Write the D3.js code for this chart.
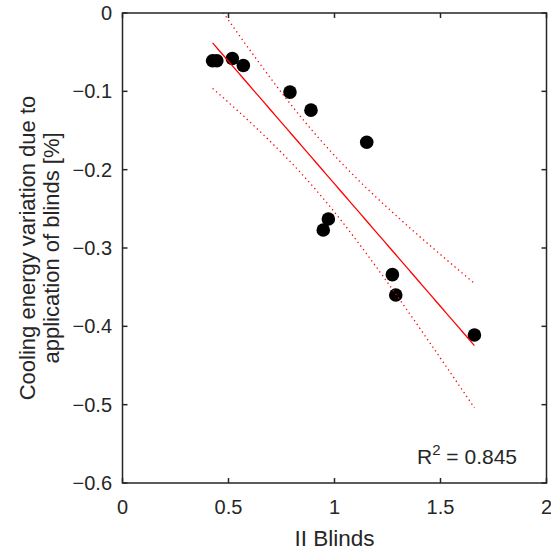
<!DOCTYPE html>
<html>
<head>
<meta charset="utf-8">
<script src="https://cdn.jsdelivr.net/npm/d3@7"></script>
<style>
  html, body { margin: 0; padding: 0; background: #fff; }
  text { font-family: "Liberation Sans", Arial, Helvetica, sans-serif; fill: #262626; }
</style>
</head>
<body>
<svg id="chart" width="551" height="552"></svg>
<script>
// ---- data ----
const xValues = [0.425, 0.445, 0.518, 0.570, 0.790, 0.889, 0.947, 0.971, 1.152, 1.273, 1.289, 1.660];
const yValues = [-0.061, -0.061, -0.058, -0.067, -0.101, -0.124, -0.277, -0.263, -0.165, -0.334, -0.360, -0.411];
const xTicks = [0, 0.5, 1, 1.5, 2];
const yTicks = [0, -0.1, -0.2, -0.3, -0.4, -0.5, -0.6];
const xLabel = "II Blinds";
const yLabelLines = ["Cooling energy variation due to", "application of blinds [%]"];
const r2Text = "0.845";

// ---- layout ----
const svg = d3.select("#chart");
const pL = 122.5, pR = 546.5, pT = 13, pB = 483;
const x = d3.scaleLinear().domain([0, 2]).range([pL, pR]);
const y = d3.scaleLinear().domain([-0.6, 0]).range([pB, pT]);
const axisColor = "#262626";

// ---- linear regression with 95% confidence band of the mean ----
const n = xValues.length;
const mx = d3.mean(xValues), my = d3.mean(yValues);
let sxx = 0, sxy = 0;
for (let i = 0; i < n; i++) { sxx += (xValues[i]-mx)**2; sxy += (xValues[i]-mx)*(yValues[i]-my); }
const slope = sxy / sxx, intercept = my - slope * mx;
let sse = 0;
for (let i = 0; i < n; i++) sse += (yValues[i] - (intercept + slope*xValues[i]))**2;
const sErr = Math.sqrt(sse / (n - 2));
const tCrit = 2.228; // t(0.975, df=10)
const xmin = d3.min(xValues), xmax = d3.max(xValues);
const fitXs = d3.range(0, 101).map(i => xmin + (xmax - xmin) * i / 100);
const hw = xv => tCrit * sErr * Math.sqrt(1/n + (xv-mx)**2 / sxx);
const fitLine = fitXs.map(xv => [xv, intercept + slope*xv]);
const upper = fitXs.map(xv => [xv, intercept + slope*xv + hw(xv)]);
const lower = fitXs.map(xv => [xv, intercept + slope*xv - hw(xv)]);

svg.append("defs").append("clipPath").attr("id", "clip")
  .append("rect").attr("x", pL).attr("y", pT).attr("width", pR-pL).attr("height", pB-pT);

const line = d3.line().x(d => x(d[0])).y(d => y(d[1]));
const g = svg.append("g").attr("clip-path", "url(#clip)");

// points
g.selectAll("circle").data(xValues.map((v,i)=>[v, yValues[i]])).enter().append("circle")
  .attr("cx", d => x(d[0])).attr("cy", d => y(d[1])).attr("r", 6.8).attr("fill", "#000");

g.append("path").attr("d", line(fitLine)).attr("fill", "none").attr("stroke", "#ff0000").attr("stroke-width", 1.3);
[upper, lower].forEach(b => g.append("path").attr("d", line(b)).attr("fill", "none")
  .attr("stroke", "#ff0000").attr("stroke-width", 1.3).attr("stroke-dasharray", "1.3,3.3"));

// axes box with inward ticks
const tickLen = 5;
const axG = svg.append("g");
axG.append("rect").attr("x", pL).attr("y", pT).attr("width", pR-pL).attr("height", pB-pT)
  .attr("fill", "none").attr("stroke", axisColor).attr("stroke-width", 1.5);
xTicks.forEach(t => {
  axG.append("line").attr("x1", x(t)).attr("x2", x(t)).attr("y1", pB).attr("y2", pB - tickLen).attr("stroke", axisColor).attr("stroke-width", 1.5);
  axG.append("line").attr("x1", x(t)).attr("x2", x(t)).attr("y1", pT).attr("y2", pT + tickLen).attr("stroke", axisColor).attr("stroke-width", 1.5);
  axG.append("text").attr("x", x(t)).attr("y", 513.5).attr("text-anchor", "middle").attr("font-size", 20).text(d3.format("")(t));
});
yTicks.forEach(t => {
  axG.append("line").attr("x1", pL).attr("x2", pL + tickLen).attr("y1", y(t)).attr("y2", y(t)).attr("stroke", axisColor).attr("stroke-width", 1.5);
  axG.append("line").attr("x1", pR).attr("x2", pR - tickLen).attr("y1", y(t)).attr("y2", y(t)).attr("stroke", axisColor).attr("stroke-width", 1.5);
  axG.append("text").attr("x", 112).attr("y", y(t) + 7).attr("text-anchor", "end").attr("font-size", 20).text(d3.format("")(t));
});

// axis labels
svg.append("text").attr("x", (pL+pR)/2).attr("y", 546).attr("text-anchor", "middle").attr("font-size", 22.5).text(xLabel);
const yl = svg.append("text").attr("transform", `translate(34.5,${(pT+pB)/2}) rotate(-90)`)
  .attr("text-anchor", "middle").attr("font-size", 22);
yLabelLines.forEach((l, i) => yl.append("tspan").attr("x", 0).attr("dy", i === 0 ? 0 : 24.5).text(l));

// R^2 annotation
const rt = svg.append("text").attr("x", 417).attr("y", 463.5).attr("font-size", 21);
rt.append("tspan").text("R");
rt.append("tspan").attr("dy", -9).attr("font-size", 15).text("2");
rt.append("tspan").attr("dy", 9).text(" = " + r2Text);
</script>
</body>
</html>
